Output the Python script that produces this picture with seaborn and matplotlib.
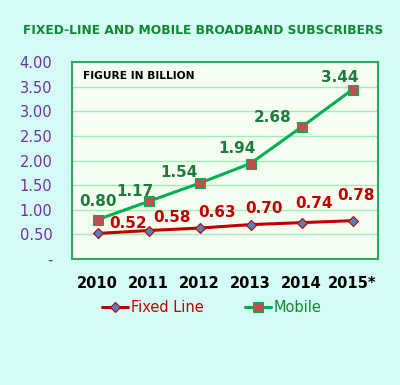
import matplotlib.pyplot as plt
import pandas as pd
import seaborn as sns

YEARS = ["2010", "2011", "2012", "2013", "2014", "2015*"]
FIXED_LINE = [0.52, 0.58, 0.63, 0.70, 0.74, 0.78]
MOBILE = [0.80, 1.17, 1.54, 1.94, 2.68, 3.44]
Y_TICKS = [0.0, 0.5, 1.0, 1.5, 2.0, 2.5, 3.0, 3.5, 4.0]

# label offsets in pixels (hand placed in the original)
FIXED_OFFSETS = [(31, 10), (24, 13), (18, 16), (14, 16), (12, 19), (3, 25)]
MOBILE_OFFSETS = [(1, 18), (-14, 10), (-20, 11), (-13, 15), (-29, 10), (-13, 12)]

BG = "#D5FBF7"
RED = "#C00000"
GREEN = "#00B050"
LABEL_GREEN = "#1F7A3C"
PURPLE = "#7030A0"

df = pd.DataFrame({"x": range(len(YEARS)), "Fixed Line": FIXED_LINE, "Mobile": MOBILE})

sns.set_style("white")
plt.rcParams["font.family"] = ["DejaVu Sans"]

fig = plt.figure(figsize=(4.0, 3.85), dpi=100, facecolor=BG)
ax = fig.add_axes([0.18, 0.327, 0.765, 0.512])
ax.set_facecolor("#F4FFF2")

sns.lineplot(data=df, x="x", y="Fixed Line", ax=ax, color=RED, lw=2.2,
             marker="D", markersize=5.5, markerfacecolor="#4F81BD",
             markeredgecolor=RED, markeredgewidth=0.8, label="Fixed Line")
sns.lineplot(data=df, x="x", y="Mobile", ax=ax, color=GREEN, lw=2.2,
             marker="s", markersize=7, markerfacecolor="#C0504D",
             markeredgecolor=GREEN, markeredgewidth=0.8, label="Mobile")

for i, v in enumerate(FIXED_LINE):
    ax.annotate(f"{v:.2f}", (i, v), xytext=FIXED_OFFSETS[i], textcoords="offset pixels",
                ha="center", va="center", color=RED, fontsize=11, fontweight="bold")
for i, v in enumerate(MOBILE):
    ax.annotate(f"{v:.2f}", (i, v), xytext=MOBILE_OFFSETS[i], textcoords="offset pixels",
                ha="center", va="center", color=LABEL_GREEN, fontsize=11, fontweight="bold")

ax.set_xlim(-0.5, len(YEARS) - 0.5)
ax.set_ylim(0, 4)
ax.set_yticks(Y_TICKS)
ax.set_yticklabels(["-" if t == 0 else f"{t:.2f}" for t in Y_TICKS], color=PURPLE, fontsize=10.5)
ax.set_xticks(range(len(YEARS)))
ax.set_xticklabels(YEARS, fontsize=10.5, fontweight="bold", color="black")
ax.tick_params(axis="x", length=0, pad=12)
ax.tick_params(axis="y", length=0, pad=14)
ax.set_xlabel("")
ax.set_ylabel("")
ax.grid(axis="y", color="#9EF0B4", lw=1)
ax.set_axisbelow(True)
for s in ax.spines.values():
    s.set_color("#2EA85A")
    s.set_linewidth(1.5)

ax.text(0.035, 0.93, "FIGURE IN BILLION", transform=ax.transAxes, fontsize=7.7,
        fontweight="bold", color="black", va="center")

fig.text(0.508, 0.922, "FIXED-LINE AND MOBILE BROADBAND SUBSCRIBERS", ha="center",
         va="center", color="#0E8A2E", fontsize=8.85, fontweight="bold")

ax.get_legend().remove()
handles, labels = ax.get_legend_handles_labels()
leg = fig.legend(handles, labels, loc="center", bbox_to_anchor=(0.53, 0.2), ncol=2,
                 frameon=False, fontsize=10.5, handlelength=1.8, handletextpad=0.2,
                 columnspacing=2.8)
for t, c in zip(leg.get_texts(), [RED, "#0E8A2E"]):
    t.set_color(c)

fig.savefig("out.png", dpi=100, facecolor=BG)
